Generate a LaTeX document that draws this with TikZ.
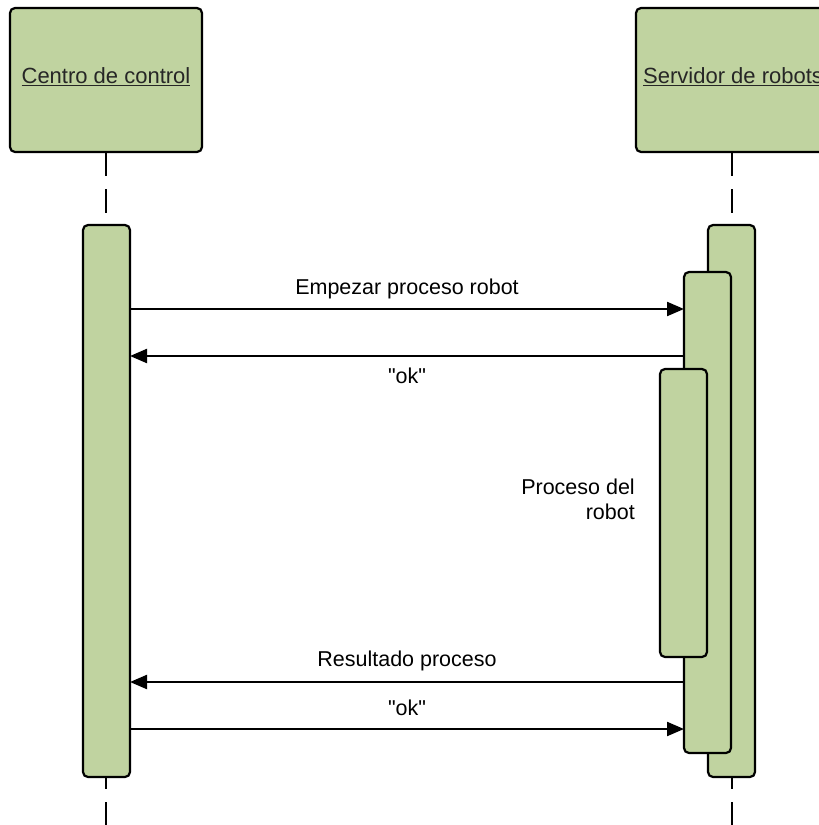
\documentclass[tikz,border=0pt]{standalone}
\usepackage{fontspec}
\setmainfont{Liberation Sans}[Ligatures=TeXOff]
\usetikzlibrary{arrows.meta}
\definecolor{boxgreen}{RGB}{192,211,160}
\tikzset{
  gbox/.style={draw=black, fill=boxgreen, line width=2.2pt, rounded corners=5pt},
  msg/.style={line width=2.2pt, -{Triangle[length=17pt,width=14pt]}},
  life/.style={line width=2.2pt, dash pattern=on 24pt off 13pt},
  lbl/.style={font=\fontsize{21.5}{25}\selectfont, inner sep=0pt},
  hdr/.style={font=\fontsize{22}{26}\selectfont, inner sep=0pt, text=black!85}
}
\begin{document}
\begin{tikzpicture}[x=1pt,y=-1pt]
\useasboundingbox (0,0) rectangle (819,825);
\clip (0,0) rectangle (819,825);
% headers
\draw[gbox] (10,8) rectangle (202,152);
\draw[gbox] (636,8) rectangle (828,152);
\node[hdr] (hcc) at (106,77) {\underline{Centro de control}};
\node[hdr, anchor=west] (hsr) at (643,77) {\underline{Servidor de robots}};
% lifelines
\coordinate (l1) at (106,152);
\coordinate (l1b) at (106,225);
\coordinate (l1c) at (106,777);
\coordinate (l1d) at (106,830);
\coordinate (l2) at (732,152);
\coordinate (l2b) at (732,225);
\coordinate (l2c) at (732,777);
\coordinate (l2d) at (732,830);
\draw[life] (l1) -- (l1b);
\draw[life] (l2) -- (l2b);
\draw[life, dash phase=12pt] (l1c) -- (l1d);
\draw[life, dash phase=12pt] (l2c) -- (l2d);
% activations
\draw[gbox] (83,225) rectangle (130,777);
\draw[gbox] (708,225) rectangle (755,777);
\draw[gbox] (684,272) rectangle (731,753);
\draw[gbox] (660,369) rectangle (707,657);
% message anchors
\coordinate (a1) at (130,309); \coordinate (b1) at (684,309);
\coordinate (a2) at (130,356); \coordinate (b2) at (684,356);
\coordinate (a3) at (130,682); \coordinate (b3) at (684,682);
\coordinate (a4) at (130,729); \coordinate (b4) at (684,729);
\draw[msg] (a1) -- (b1);
\draw[msg] (b2) -- (a2);
\draw[msg] (b3) -- (a3);
\draw[msg] (a4) -- (b4);
% labels
\node[lbl] (m1) at (407,289) {Empezar proceso robot};
\node[lbl] (m2) at (407,376) {"ok"};
\node[lbl] (m3) at (407,661) {Resultado proceso};
\node[lbl] (m4) at (407,708) {"ok"};
\node[lbl, align=right, anchor=east] (pr) at (635,499) {Proceso del\\robot};
\end{tikzpicture}
\end{document}
